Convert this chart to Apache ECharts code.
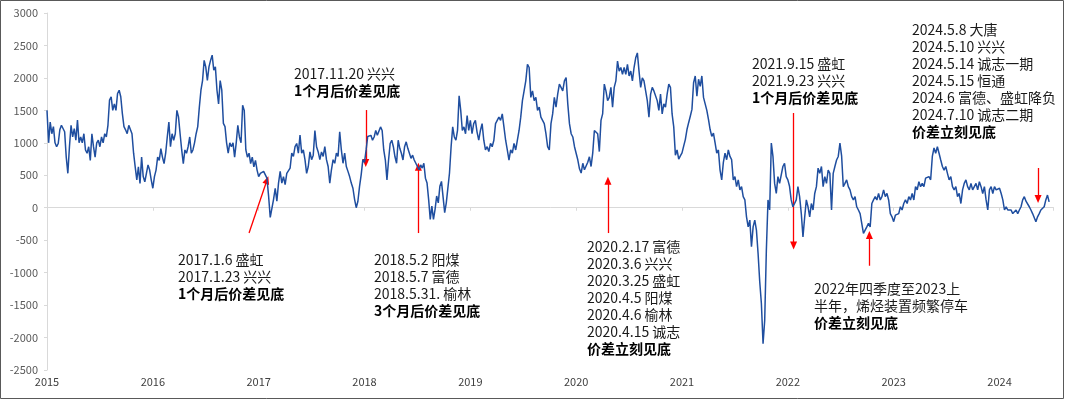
<!DOCTYPE html>
<html><head><meta charset="utf-8">
<script src="https://cdn.jsdelivr.net/npm/echarts@6/dist/echarts.min.js"></script>
<style>html,body{margin:0;padding:0;background:#fff}#c{width:1080px;height:400px}</style>
</head><body><div id="c"></div>
<script>
// ---- data ----
const years = [2015,2016,2017,2018,2019,2020,2021,2022,2023,2024];
const v2015 = [1500,1000,1320,1140,1250,1000,940,990,1200,1270,1220,1170,780,530,940,1270,1090,1220,1040,1350,1000,1090,1000,1140,890,840,940,730,1140,940,780,1000,1040,940,1090,1000,1140,1090,1270,1660,1710,1500,1600,1500,1760,1810,1710,1450,1250,1200,1140,1270,1250,1140,840,630,430,630,375,780,480,400,530,660,580,430];
const v2016 = [300,480,580,780,730,910,780,680,840,1090,1320,940,1140,1040,1140,1500,1400,1140,890,680,890,840,940,1090,840,890,1000,1140,1250,1550,1810,1960,2270,2170,1960,2170,2270,2350,2120,2170,1810,1600,1960,1810,1300,1250,1000,840,1000,940,1000,780,1000,1270,1090,1000,1580,1500,890,780,840,680,780,630,730,580];
const v2017 = [480,530,545,560,530,455,180,-150,-130,130,300,100,380,560,380,480,355,530,510,610,840,790,940,990,840,1120,840,890,740,530,635,860,740,810,1190,940,860,740,860,790,940,740,635,380,585,740,685,840,790,1170,890,685,840,635,560,480,380,300,130,0,100,330,510,740];
const v2018 = [700,890,1097,1090,1115,1040,1090,1190,1115,1140,1245,1190,890,735,430,735,990,1040,940,785,685,1040,915,840,735,940,1015,915,840,760,810,735,710,635,585,660,610,685,455,380,125,-180,25,-180,-25,180,75,330,405,380,-75,75,75,535,940,1245,1090,1040,1190,1725,1500,1190,1245,1140,1420,1190];
const v2019 = [1345,1140,1295,1345,1165,1040,1190,1295,1040,890,940,865,990,940,1040,1295,1345,1395,1345,1445,1245,1040,890,735,890,840,990,890,1040,1190,1395,1650,1800,1955,2210,2160,1700,1800,1650,1700,1500,1550,1395,1345,1295,1140,940,890,1295,1445,1700,1550,1750,1905,1855,1800,1955,2005,1600,1295,1140,1090,940];
const v2020 = [940,735,600,535,685,585,560,700,785,635,840,1190,1215,1140,865,1345,1445,1905,1800,1650,1700,1855,1550,1855,1955,2260,2105,2160,2055,2160,2055,2210,2030,2105,1955,2160,2310,2385,2105,1855,2000,1955,1800,1650,1395,1750,1855,1800,1800,1650,1500,1750,1445,1600,1550,1750,1905,1855,1445,1245,810,890,750,800];
const v2021 = [845,950,1050,1205,1310,1410,1515,1925,2030,1720,1980,1870,2030,1700,1600,1500,1360,1205,1100,1150,1000,840,890,580,430,700,840,740,890,790,740,430,480,325,430,275,325,170,120,-140,-295,-190,-600,-295,-190,-345,-705,-1140,-1480,-2095,-1735,-655,120,-35,995,790,375,220,480,375,375,635,685,480];
const v2022 = [430,330,120,15,65,120,325,170,-90,-450,-150,120,15,-140,65,-35,220,325,610,530,635,325,480,375,580,530,-35,530,635,735,790,995,800,325,375,430,325,275,170,120,170,15,-35,-90,-100,-395,-345,-295,-240,-295,65,120,170,120,220,120,170,275,170,220,120,-90,-140];
const v2023 = [-215,-115,-140,-90,15,-35,65,120,65,170,120,220,120,325,275,400,325,375,325,455,430,480,430,790,920,840,940,840,735,635,580,635,530,430,480,325,275,325,170,220,65,275,375,430,325,275,375,275,325,375,275,400,325,220,325,120,-35,275,325,220,325,275,300];
const v2024 = [300,220,120,-35,15,-35,-60,-35,-90,-60,-35,-90,-35,15,120,170,100,120,15,-35,-90,-115,-215,-140,-90,-35,-10,15,120,195,90];
const yearValues = [v2015,v2016,v2017,v2018,v2019,v2020,v2021,v2022,v2023,v2024];
const pointsPerYearPartial = 64; // sampling rate of the last, partial year
const yTickMin = -2500, yTickMax = 3000, yTickStep = 500;
const xStart = 2015, xEnd = 2024.51;

const notes = [
  {lines:['2017.1.6 盛虹','2017.1.23 兴兴'], bold:'1个月后价差见底'},
  {lines:['2017.11.20 兴兴'], bold:'1个月后价差见底'},
  {lines:['2018.5.2 阳煤','2018.5.7 富德','2018.5.31. 榆林'], bold:'3个月后价差见底'},
  {lines:['2020.2.17 富德','2020.3.6 兴兴','2020.3.25 盛虹','2020.4.5 阳煤','2020.4.6 榆林','2020.4.15 诚志'], bold:'价差立刻见底'},
  {lines:['2021.9.15 盛虹','2021.9.23 兴兴'], bold:'1个月后价差见底'},
  {lines:['2024.5.8 大唐','2024.5.10 兴兴','2024.5.14 诚志一期','2024.5.15 恒通','2024.6 富德、盛虹降负','2024.7.10 诚志二期'], bold:'价差立刻见底'},
  {lines:['2022年四季度至2023上','半年，烯烃装置频繁停车'], bold:'价差立刻见底'}
];

// ---- build ----
const seriesData = [];
years.forEach((y, k) => {
  const arr = yearValues[k];
  const n = (k === years.length - 1) ? pointsPerYearPartial : arr.length;
  arr.forEach((v, i) => seriesData.push([y + i / n, v]));
});

const FONT = '"Noto Sans CJK SC","Noto Sans",sans-serif';
const notePos = [[178,251.5],[294,65.5],[374,251.5],[587,238.5],[752,55.5],[912,21.5],[814,280.5]];
const graphics = notes.map((n, i) => ({
  type:'text', x: notePos[i][0], y: notePos[i][1], silent:true, z:100,
  style:{
    text: n.lines.map(l => '{n|' + l + '}').join('\n') + '\n{b|' + n.bold + '}',
    align:'left', verticalAlign:'top',
    rich:{
      n:{fontSize:14, lineHeight:17, fontFamily:FONT, fill:'#1a1a1a'},
      b:{fontSize:14, lineHeight:17, fontFamily:FONT, fontWeight:'bold', fill:'#000'}
    }
  }
}));
graphics.push({type:'rect', silent:true, z:-10, shape:{x:0.5,y:0.5,width:1063,height:398}, style:{fill:'none', stroke:'#595959', lineWidth:1}});

// arrows in data coordinates [x1,y1,x2,y2] (tail -> head)
const arrowLines = [
  [2016.909,-390,2017.079,427],
  [2018.012,1505,2018.012,689],
  [2018.509,-390,2018.509,632],
  [2020.300,-390,2020.300,416],
  [2022.054,1459,2022.054,-582],
  [2022.770,-894,2022.770,-421],
  [2024.364,612,2024.364,134]
];

const chart = echarts.init(document.getElementById('c'), null, {renderer:'canvas'});
chart.setOption({
  animation:false,
  backgroundColor:'#fff',
  grid:{left:47, right:26.5, top:13, bottom:30},
  xAxis:[
    {type:'value', min:xStart, max:xEnd, interval:1, position:'bottom',
     axisLine:{show:false, onZero:false}, axisTick:{show:false}, splitLine:{show:false},
     axisLabel:{showMaxLabel:false, color:'#404040', fontSize:11, fontFamily:FONT, margin:6,
       formatter:v => Math.abs(v-Math.round(v))<1e-6 ? String(Math.round(v)) : ''}},
    {type:'value', min:xStart, max:xEnd, interval:1, position:'bottom',
     axisLine:{show:true, onZero:true, lineStyle:{color:'#d9d9d9', width:1}},
     axisTick:{show:true, length:3, lineStyle:{color:'#d9d9d9'}},
     axisLabel:{show:false}, splitLine:{show:false}}
  ],
  yAxis:{type:'value', min:yTickMin, max:yTickMax, interval:yTickStep,
    axisLine:{show:true, lineStyle:{color:'#d9d9d9', width:1}},
    axisTick:{show:true, length:3, lineStyle:{color:'#d9d9d9'}},
    splitLine:{show:false},
    axisLabel:{color:'#595959', fontSize:11, fontFamily:FONT, margin:9, formatter:v => String(v)}},
  series:[{
    type:'line', xAxisIndex:0, data:seriesData, showSymbol:false, symbol:'none',
    lineStyle:{color:'#1f4e9f', width:1.5}, z:5,
    markLine:{silent:true, symbol:['none','triangle'], symbolSize:[7,8], animation:false,
      lineStyle:{color:'#ff0000', width:1.3, type:'solid'}, label:{show:false},
      emphasis:{disabled:true},
      data: arrowLines.map(a => [{coord:[a[0],a[1]]},{coord:[a[2],a[3]]}])}
  }],
  graphic: graphics
});
</script></body></html>
